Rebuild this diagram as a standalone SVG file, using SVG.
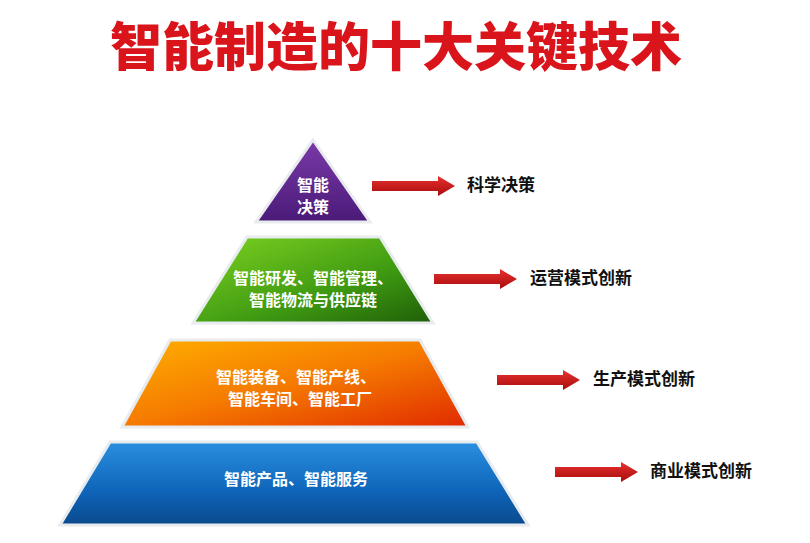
<svg xmlns="http://www.w3.org/2000/svg" width="810" height="543" viewBox="0 0 810 543">
<defs>
<linearGradient id="gp" x1="0" y1="0" x2="0" y2="1"><stop offset="0" stop-color="#7a3aa8"/><stop offset="1" stop-color="#4a1a78"/></linearGradient>
<linearGradient id="gg" x1="0" y1="0" x2="1" y2="1"><stop offset="0" stop-color="#7ed321"/><stop offset="0.6" stop-color="#3f9a12"/><stop offset="1" stop-color="#1f5e08"/></linearGradient>
<linearGradient id="go" x1="0" y1="0" x2="1" y2="1"><stop offset="0" stop-color="#ffb000"/><stop offset="0.5" stop-color="#f57a00"/><stop offset="1" stop-color="#e02a00"/></linearGradient>
<linearGradient id="gb" x1="0" y1="0" x2="0" y2="1"><stop offset="0" stop-color="#2a8fe0"/><stop offset="0.6" stop-color="#0e64b8"/><stop offset="1" stop-color="#0a4a8c"/></linearGradient>
<linearGradient id="ga" x1="0" y1="0" x2="0" y2="1"><stop offset="0" stop-color="#e83030"/><stop offset="1" stop-color="#a80c0c"/></linearGradient>
</defs>
<style>
.t{font-family:"Noto Sans CJK SC",sans-serif;font-weight:bold;fill:#fff;font-size:16px;text-anchor:middle}
.l{font-family:"Noto Sans CJK SC",sans-serif;font-weight:bold;fill:#111;font-size:17px}
.s{stroke:#e8ecef;stroke-width:3}
</style>
<rect width="810" height="543" fill="#fff"/>
<text x="396" y="66" text-anchor="middle" font-family="Noto Sans CJK SC,sans-serif" font-weight="900" font-size="52" fill="#d9141b">智能制造的十大关键技术</text>
<g id="n1"><polygon class="s" points="313,140 370,222 256,222" fill="url(#gp)"/><text class="t" x="313" y="191" font-size="15">智能</text><text class="t" x="313" y="213" font-size="15">决策</text></g>
<g id="n2"><polygon class="s" points="247,237 380,237 433,323 193,323" fill="url(#gg)"/><text class="t" x="313" y="284">智能研发、智能管理、</text><text class="t" x="313" y="306">智能物流与供应链</text></g>
<g id="n3"><polygon class="s" points="170,340 420,340 468,427 122,427" fill="url(#go)"/><text class="t" x="296" y="383">智能装备、智能产线、</text><text class="t" x="300" y="405">智能车间、智能工厂</text></g>
<g id="n4"><polygon class="s" points="110,442 477,442 528,525 60,525" fill="url(#gb)"/><text class="t" x="296" y="485">智能产品、智能服务</text></g>
<g id="connectors" fill="url(#ga)">
<polygon points="372,181 438,181 438,176 455,186 438,196 438,191 372,191"/>
<polygon points="434,274 500,274 500,269 517,279 500,289 500,284 434,284"/>
<polygon points="497,375 563,375 563,370 580,380 563,390 563,385 497,385"/>
<polygon points="555,467 621,467 621,462 638,472 621,482 621,477 555,477"/>
</g>
<text class="l" x="467" y="191">科学决策</text>
<text class="l" x="530" y="284">运营模式创新</text>
<text class="l" x="593" y="385">生产模式创新</text>
<text class="l" x="650" y="477">商业模式创新</text>
</svg>
